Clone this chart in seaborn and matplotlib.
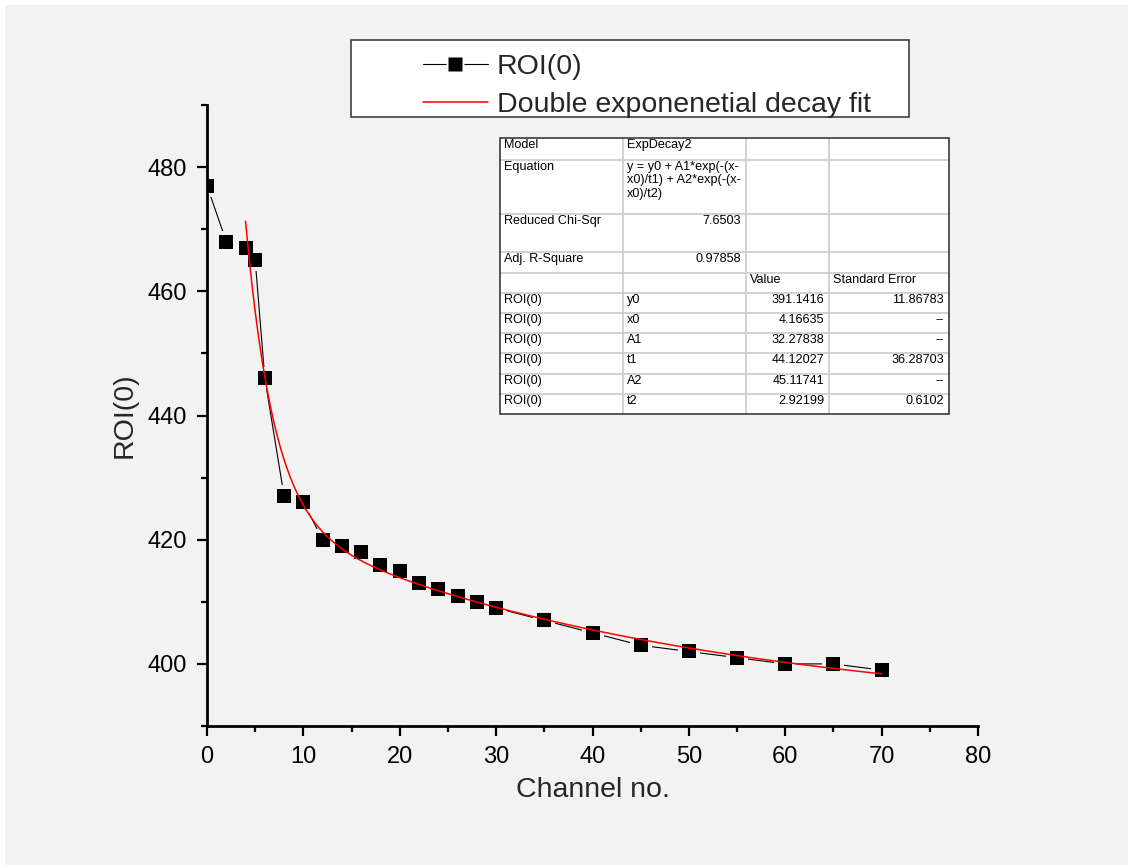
import numpy as np
import pandas as pd
import matplotlib
matplotlib.use("Agg")
import matplotlib.pyplot as plt
import seaborn as sns
from matplotlib.lines import Line2D
from matplotlib.patches import Rectangle
from matplotlib.legend_handler import HandlerTuple
from matplotlib.ticker import MultipleLocator

# ---- measured ROI(0) counts per channel ----
channel = [0, 2, 4, 5, 6, 8, 10, 12, 14, 16, 18, 20, 22, 24, 26, 28, 30,
           35, 40, 45, 50, 55, 60, 65, 70]
roi = [477, 468, 467, 465, 446, 427, 426, 420, 419, 418, 416, 415, 413,
       412, 411, 410, 409, 407, 405, 403, 402, 401, 400, 400, 399]

# ---- ExpDecay2 fit results ----
param_names = ["y0", "x0", "A1", "t1", "A2", "t2"]
param_values = [391.1416, 4.16635, 32.27838, 44.12027, 45.11741, 2.92199]
param_errors = ["11.86783", "--", "--", "36.28703", "--", "0.6102"]
fit_start, fit_end = 4, 70
reduced_chi_sqr = "7.6503"
adj_r_square = "0.97858"

x_ticks = [0, 10, 20, 30, 40, 50, 60, 70, 80]
y_ticks = [400, 420, 440, 460, 480]

W, H, DPI = 1128, 865, 100
BG = "#f2f2f2"

sns.set_style("ticks")
plt.rcParams["font.family"] = ["Liberation Sans", "DejaVu Sans"]


def fx(px):
    return px / W


def fy(py):
    return 1 - py / H


fig = plt.figure(figsize=(W / DPI, H / DPI), dpi=DPI, facecolor="white")
fig.add_artist(Rectangle((fx(5), 0), 1 - fx(5), fy(5), transform=fig.transFigure,
                         facecolor=BG, edgecolor="none", zorder=-10))

ax = fig.add_axes([fx(207), fy(726), fx(978) - fx(207), fy(105) - fy(726)])
ax.set_facecolor("none")

df = pd.DataFrame({"channel": channel, "roi": roi})

# evaluate the double exponential model over the fitted range
p = dict(zip(param_names, param_values))
xf = np.linspace(fit_start, fit_end, 400)
yf = (p["y0"] + p["A1"] * np.exp(-(xf - p["x0"]) / p["t1"])
      + p["A2"] * np.exp(-(xf - p["x0"]) / p["t2"]))
fit_df = pd.DataFrame({"channel": xf, "roi": yf})

sns.lineplot(data=df, x="channel", y="roi", ax=ax, color="black", lw=0.8,
             sort=False, zorder=2)
# background-coloured squares open a small gap in the line around each point
sns.scatterplot(data=df, x="channel", y="roi", ax=ax, marker="s", s=15.5 ** 2,
                color=BG, linewidth=0, zorder=2.1)
sns.scatterplot(data=df, x="channel", y="roi", ax=ax, marker="s", s=9.4 ** 2,
                color="black", linewidth=0, zorder=2.2)
sns.lineplot(data=fit_df, x="channel", y="roi", ax=ax, color="#ff0000", lw=1.1,
             sort=False, zorder=2.3)

ax.set_xlim(0, 80)
ax.set_ylim(390, 490)
ax.set_xticks(x_ticks)
ax.set_yticks(y_ticks)
ax.xaxis.set_minor_locator(MultipleLocator(5))
ax.yaxis.set_minor_locator(MultipleLocator(10))
for side in ("top", "right"):
    ax.spines[side].set_visible(False)
for side in ("left", "bottom"):
    ax.spines[side].set_linewidth(2.0)
    ax.spines[side].set_color("black")
ax.tick_params(which="major", direction="out", length=7.5, width=1.6,
               labelsize=17, pad=7, color="black", labelcolor="black")
ax.tick_params(which="minor", direction="out", length=4, width=1.6, color="black")
ax.set_xlabel("Channel no.", fontsize=20.5, labelpad=6.5)
ax.set_ylabel("ROI(0)", fontsize=20.5, labelpad=7)

# ---- legend ----
fig.add_artist(Rectangle((fx(351), fy(117)), fx(909) - fx(351), fy(40) - fy(117),
                         transform=fig.transFigure, facecolor="white",
                         edgecolor="#404040", lw=1.2, zorder=4))
h_roi = (Line2D([], [], color="black", lw=0.8),
         Line2D([], [], ls="none", marker="s", ms=12.5, mfc="white", mec="none"),
         Line2D([], [], ls="none", marker="s", ms=9.4, mfc="black", mec="none"))
h_fit = Line2D([], [], color="#ff0000", lw=1.1)
fig.legend(handles=[h_roi, h_fit], labels=["ROI(0)", "Double exponenetial decay fit"],
           handler_map={tuple: HandlerTuple(ndivide=1)},
           loc="upper left", bbox_to_anchor=(fx(422.7), fy(54)),
           bbox_transform=fig.transFigure, frameon=False, borderpad=0,
           borderaxespad=0, handlelength=2.28, handletextpad=0.32,
           labelspacing=0.41, fontsize=20.5).set_zorder(5)

# ---- fit summary table ----
col_edges = [500, 623, 746, 829, 949]
row_edges = [138, 160, 214, 252, 273, 293, 313, 333, 353, 374, 394, 414]
equation = "y = y0 + A1*exp(-(x-\nx0)/t1) + A2*exp(-(x-\nx0)/t2)"
rows = [
    [("Model", "l"), ("ExpDecay2", "l"), ("", "l"), ("", "l")],
    [("Equation", "l"), (equation, "l"), ("", "l"), ("", "l")],
    [("Reduced Chi-Sqr", "l"), (reduced_chi_sqr, "r"), ("", "l"), ("", "l")],
    [("Adj. R-Square", "l"), (adj_r_square, "r"), ("", "l"), ("", "l")],
    [("", "l"), ("", "l"), ("Value", "l"), ("Standard Error", "l")],
]
for name, val, err in zip(param_names, param_values, param_errors):
    rows.append([("ROI(0)", "l"), (name, "l"), (f"{val}", "r"), (err, "r")])

fig.add_artist(Rectangle((fx(col_edges[0]), fy(row_edges[-1])),
                         fx(col_edges[-1]) - fx(col_edges[0]),
                         fy(row_edges[0]) - fy(row_edges[-1]),
                         transform=fig.transFigure, facecolor="white",
                         edgecolor="none", zorder=4))
grid_kw = dict(transform=fig.transFigure, color="#cfcfcf", lw=1.3, zorder=4.5)
for cx in col_edges[1:-1]:
    fig.add_artist(Line2D([fx(cx), fx(cx)], [fy(row_edges[0]), fy(row_edges[-1])], **grid_kw))
for ry in row_edges[1:-1]:
    fig.add_artist(Line2D([fx(col_edges[0]), fx(col_edges[-1])], [fy(ry), fy(ry)], **grid_kw))
fig.add_artist(Rectangle((fx(col_edges[0]), fy(row_edges[-1])),
                         fx(col_edges[-1]) - fx(col_edges[0]),
                         fy(row_edges[0]) - fy(row_edges[-1]),
                         transform=fig.transFigure, facecolor="none",
                         edgecolor="#2a2a2a", lw=1.1, zorder=4.6))
for r, row in enumerate(rows):
    top = row_edges[r]
    for c, (txt, align) in enumerate(row):
        if not txt:
            continue
        if align == "l":
            x, ha = col_edges[c] + 4, "left"
        else:
            x, ha = col_edges[c + 1] - 5, "right"
        fig.text(fx(x), fy(top + 1), txt, ha=ha, va="top", fontsize=9.1,
                 linespacing=1.15, color="black", zorder=5)

fig.savefig("out.png", dpi=DPI, facecolor=fig.get_facecolor())
